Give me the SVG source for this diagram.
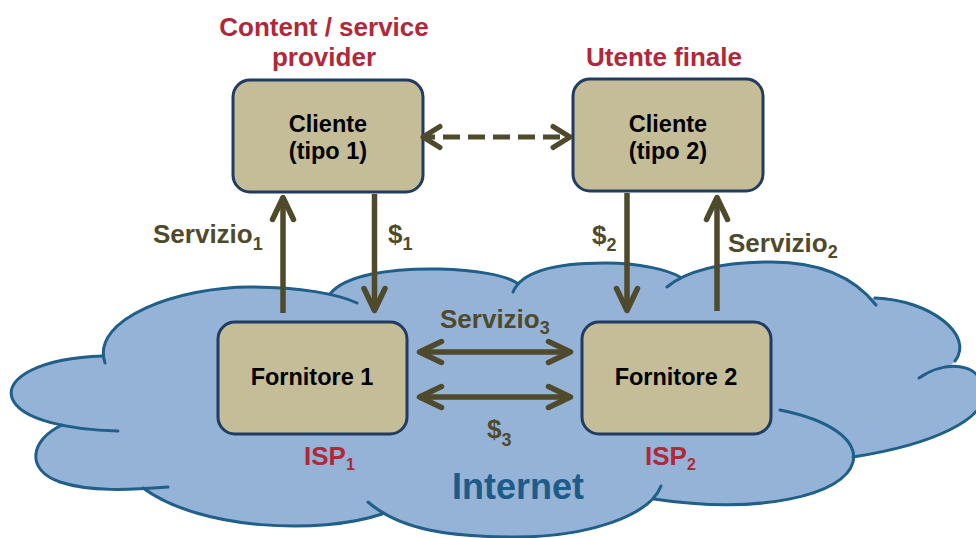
<svg xmlns="http://www.w3.org/2000/svg" width="976" height="538" viewBox="0 0 976 538">
  <style>
    text { font-family: "Liberation Sans", Arial, Helvetica, sans-serif; font-weight: bold; }
    .cloud-fill { fill: #95B3D7; stroke: #95B3D7; stroke-width: 2; stroke-linejoin: round; }
    .cloud-line { fill: none; stroke: #1F5F8A; stroke-width: 3; stroke-linecap: round; }
    .box { fill: #C4BD97; stroke: #213B63; stroke-width: 3; }
    .box-text { font-size: 23.5px; fill: #000; text-anchor: middle; }
    .role { font-size: 26px; fill: #B0283A; text-anchor: middle; }
    .isp { font-size: 26px; fill: #B0283A; }
    .isp-sub { font-size: 16px; }
    .flow { font-size: 26px; fill: #4F4A2C; }
    .sub { font-size: 18px; }
    .net { font-size: 36px; fill: #1D5C88; text-anchor: middle; }
    .arrow { stroke: #4F4A2C; stroke-width: 5.5; fill: none; marker-end: url(#head); }
    .both { marker-start: url(#head); }
    .dashed { stroke-width: 5; stroke-dasharray: 17 8; stroke-dashoffset: 5; marker-start: url(#headS); marker-end: url(#headS); }
  </style>
  <defs>
    <marker id="head" markerUnits="userSpaceOnUse" viewBox="-30 -20 40 40" markerWidth="40" markerHeight="40" refX="0" refY="0" orient="auto-start-reverse" overflow="visible">
      <path d="M-22,-10.5 L0,0 L-22,10.5" fill="none" stroke="#4F4A2C" stroke-width="5.5" stroke-linecap="round" stroke-linejoin="round" stroke-dasharray="none"/>
    </marker>
    <marker id="headS" markerUnits="userSpaceOnUse" viewBox="-30 -20 40 40" markerWidth="40" markerHeight="40" refX="0" refY="0" orient="auto-start-reverse" overflow="visible">
      <path d="M-17,-10.5 L0,0 L-17,10.5" fill="none" stroke="#4F4A2C" stroke-width="5" stroke-linecap="round" stroke-linejoin="round" stroke-dasharray="none"/>
    </marker>
    <!-- cloud lobes, each an arc that may run a little past its junction -->
    <path id="lobeA" d="M105,363 C90,318 180,287 250,287 C300,287 338,294 357,303"/>
    <path id="lobeB" d="M330,294 C345,275 390,268 440,269 C475,270 505,275 517,283"/>
    <path id="lobeC" d="M513,292 C522,270 560,263 605,263 C640,263 668,270 680,277"/>
    <path id="lobeD" d="M667,287 C690,268 730,262 772,262 C810,262 850,272 876,305"/>
    <path id="lobeE" d="M875,298 C930,300 975,335 955,361"/>
    <path id="lobeF" d="M919,378 C945,360 980,362 984,390 C988,420 930,445 853,457"/>
    <path id="lobeG" d="M780,410 C830,420 858,440 853,462 C845,495 760,515 654,499"/>
    <path id="lobeH" d="M661,486 C650,515 590,537 515,537 C450,537 400,530 368,502"/>
    <path id="lobeI" d="M382,514 C320,535 200,530 143,488"/>
    <path id="lobeJ" d="M62,425 C30,440 25,470 60,482 C90,492 130,490 168,487"/>
    <path id="lobeK" d="M103,356 C40,358 5,378 12,398 C20,420 70,430 118,431"/>
  </defs>

  <!-- Internet cloud -->
  <g id="cloud">
    <g class="cloud-fill">
      <polygon points="103,356 330,294 517,283 680,277 875,299 955,360 853,457 655,498 382,514 143,488 62,425"/>
      <use href="#lobeA"/><use href="#lobeB"/><use href="#lobeC"/><use href="#lobeD"/>
      <use href="#lobeE"/><use href="#lobeF"/><use href="#lobeG"/><use href="#lobeH"/>
      <use href="#lobeI"/><use href="#lobeJ"/><use href="#lobeK"/>
    </g>
    <g class="cloud-line">
      <use href="#lobeA"/><use href="#lobeB"/><use href="#lobeC"/><use href="#lobeD"/>
      <use href="#lobeE"/><use href="#lobeF"/><use href="#lobeG"/><use href="#lobeH"/>
      <use href="#lobeI"/><use href="#lobeJ"/><use href="#lobeK"/>
    </g>
    <text class="net" x="518" y="499">Internet</text>
  </g>

  <g id="node-cliente1">
    <text class="role" x="324" y="36">Content / service</text>
    <text class="role" x="324" y="66">provider</text>
    <rect class="box" x="233" y="80" width="190" height="112" rx="17"/>
    <text class="box-text" x="328" y="132">Cliente</text>
    <text class="box-text" x="328" y="159">(tipo 1)</text>
  </g>

  <g id="node-cliente2">
    <text class="role" x="664" y="66">Utente finale</text>
    <rect class="box" x="573" y="79" width="190" height="112" rx="17"/>
    <text class="box-text" x="668" y="132">Cliente</text>
    <text class="box-text" x="668" y="159">(tipo 2)</text>
  </g>

  <g id="node-fornitore1">
    <rect class="box" x="218" y="322" width="189" height="112" rx="17"/>
    <text class="box-text" x="312" y="385">Fornitore 1</text>
    <text class="isp" x="304" y="465">ISP<tspan class="isp-sub" dy="5">1</tspan></text>
  </g>

  <g id="node-fornitore2">
    <rect class="box" x="582" y="322" width="189" height="112" rx="17"/>
    <text class="box-text" x="676" y="385">Fornitore 2</text>
    <text class="isp" x="645" y="465">ISP<tspan class="isp-sub" dy="5">2</tspan></text>
  </g>

  <g id="connectors">
    <line class="arrow dashed" x1="423" y1="137" x2="570" y2="137"/>
    <line class="arrow" x1="283" y1="313" x2="283" y2="197.5"/>
    <line class="arrow" x1="374.5" y1="194" x2="374.5" y2="310.5"/>
    <line class="arrow" x1="627" y1="193" x2="627" y2="310.5"/>
    <line class="arrow" x1="717" y1="311" x2="717" y2="197.5"/>
    <line class="arrow both" x1="419.5" y1="352" x2="570.5" y2="352"/>
    <line class="arrow both" x1="419.5" y1="397" x2="570.5" y2="397"/>
    <text class="flow" x="153" y="243">Servizio<tspan class="sub" dy="7">1</tspan></text>
    <text class="flow" x="388" y="243">$<tspan class="sub" dy="7">1</tspan></text>
    <text class="flow" x="592" y="244">$<tspan class="sub" dy="7">2</tspan></text>
    <text class="flow" x="728" y="252">Servizio<tspan class="sub" dy="6">2</tspan></text>
    <text class="flow" x="440" y="328">Servizio<tspan class="sub" dy="6">3</tspan></text>
    <text class="flow" x="487" y="438">$<tspan class="sub" dy="8">3</tspan></text>
  </g>
</svg>
